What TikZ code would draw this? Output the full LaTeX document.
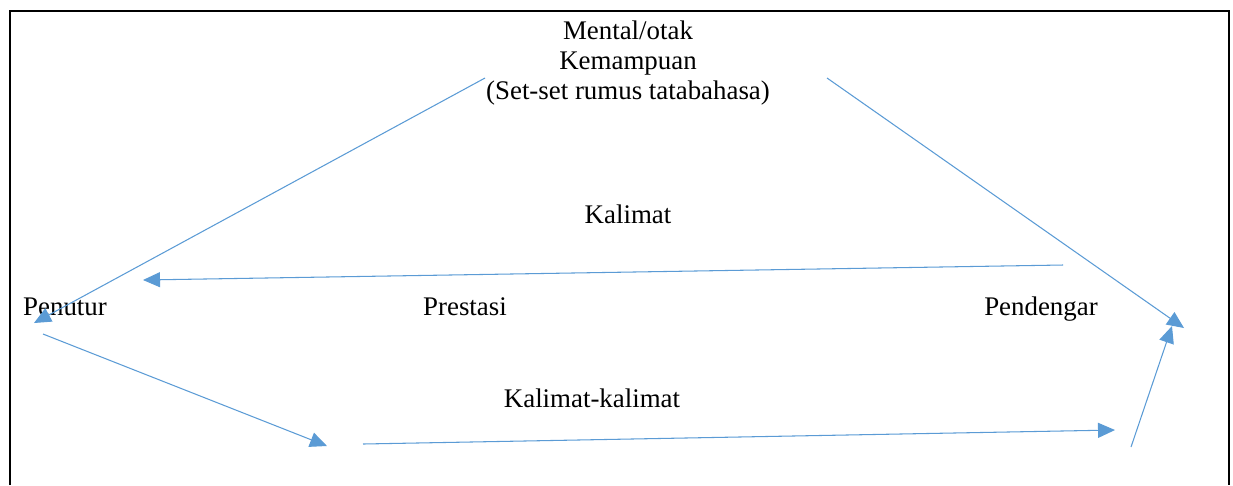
\documentclass[tikz,border=0pt]{standalone}
\usepackage{fontspec}
\setmainfont{Liberation Serif}
\usetikzlibrary{arrows.meta,positioning}

\definecolor{arrowblue}{RGB}{91,155,213}
\tikzset{
    flow/.style={draw=arrowblue, line width=0.6pt, -{Triangle[length=0.34cm,width=0.3cm]}},
    label/.style={inner sep=0pt, align=center, anchor=base}
}

\begin{document}
\begin{tikzpicture}[x=0.02cm,y=-0.02cm,font=\fontsize{15.3}{17.3}\selectfont]
    \useasboundingbox (0,0) rectangle (1233,485);
    \draw[line width=1.4pt] (10,485) -- (10,11) -- (1229,11) -- (1229,485);
    % texts
    \node[label, anchor=center] (mental) at (628,63) {Mental/otak\\Kemampuan\\(Set-set rumus tatabahasa)};
    \node[label] (kalimat) at (628,223) {Kalimat};
    \node[label] (penutur) at (65,315) {Penutur};
    \node[label] (prestasi) at (465,315) {Prestasi};
    \node[label] (pendengar) at (1041,315) {Pendengar};
    \node[label] (kalimatkalimat) at (592,407) {Kalimat-kalimat};
    % end points
    \coordinate (mentalL) at (485,78);
    \coordinate (mentalR) at (827,78);
    \coordinate (penuturIn) at (34,323);
    \coordinate (penuturOut) at (43,334);
    \coordinate (pendengarIn) at (1184,328);
    \coordinate (pendengarUp) at (1172,326);
    \coordinate (kalimatFrom) at (1063,265);
    \coordinate (kalimatTo) at (143,280);
    \coordinate (bawahA) at (327,446);
    \coordinate (bawahB) at (363,444);
    \coordinate (bawahC) at (1115,430);
    \coordinate (bawahD) at (1131,447);
    % arrows
    \draw[flow] (mentalL) -- (penuturIn);
    \draw[flow] (mentalR) -- (pendengarIn);
    \draw[flow] (kalimatFrom) -- (kalimatTo);
    \draw[flow] (penuturOut) -- (bawahA);
    \draw[flow] (bawahB) -- (bawahC);
    \draw[flow] (bawahD) -- (pendengarUp);
\end{tikzpicture}
\end{document}
